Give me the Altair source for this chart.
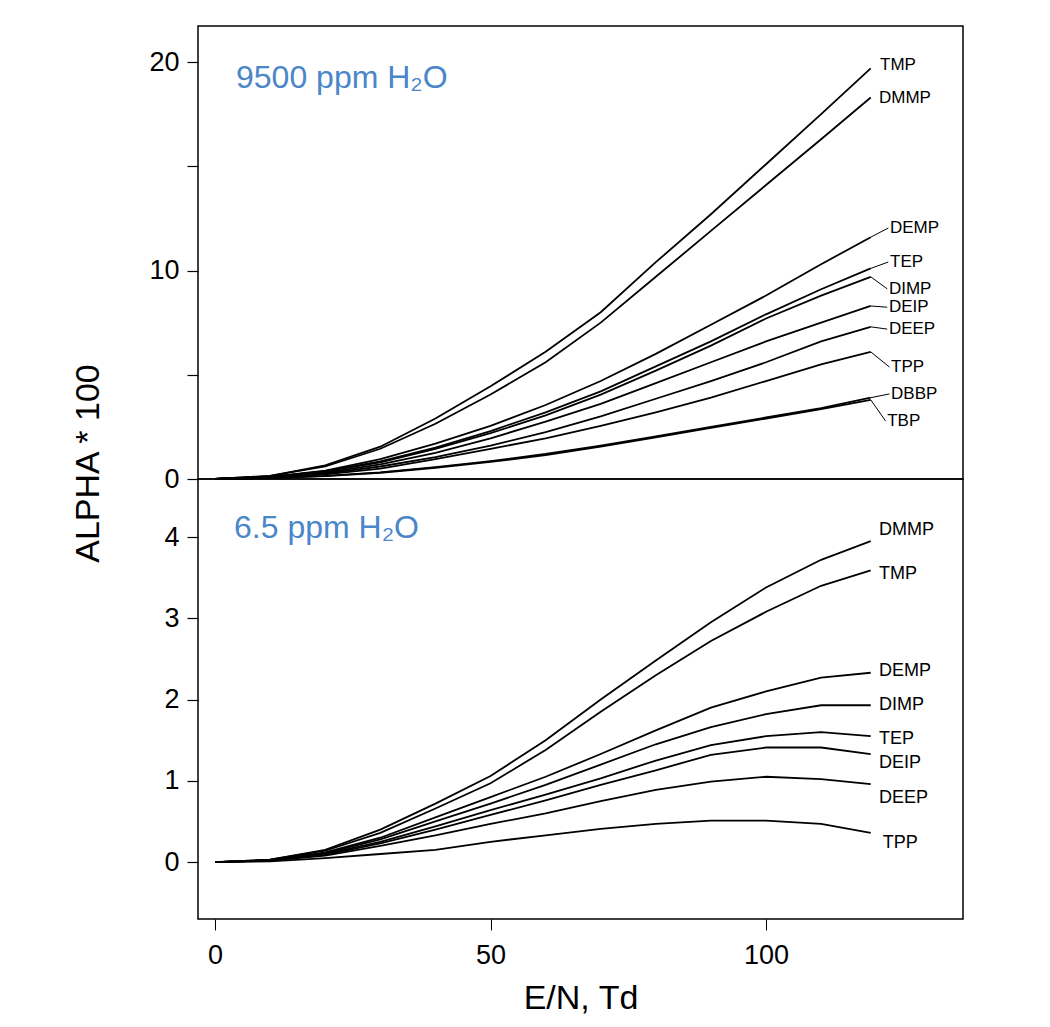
import altair as alt
import pandas as pd

# ---------------- data ----------------
EN = [0, 10, 20, 30, 40, 50, 60, 70, 80, 90, 100, 110, 119]

# 9500 ppm H2O panel (ALPHA*100)
top_TMP  = [0, 0.15, 0.65, 1.55, 2.9, 4.45, 6.1, 8.0, 10.4, 12.7, 15.1, 17.5, 19.7]
top_DMMP = [0, 0.15, 0.60, 1.45, 2.65, 4.05, 5.6, 7.5, 9.7, 11.9, 14.1, 16.3, 18.3]
top_DEMP = [0, 0.10, 0.40, 0.95, 1.70, 2.55, 3.55, 4.7, 6.0, 7.4, 8.8, 10.3, 11.6]
top_TEP  = [0, 0.10, 0.38, 0.85, 1.50, 2.30, 3.20, 4.2, 5.4, 6.6, 7.9, 9.1, 10.1]
top_DIMP = [0, 0.10, 0.36, 0.80, 1.45, 2.20, 3.05, 4.05, 5.2, 6.4, 7.7, 8.8, 9.7]
top_DEIP = [0, 0.08, 0.30, 0.70, 1.25, 1.95, 2.75, 3.6, 4.6, 5.6, 6.6, 7.5, 8.3]
top_DEEP = [0, 0.07, 0.26, 0.60, 1.05, 1.60, 2.25, 3.0, 3.85, 4.7, 5.6, 6.6, 7.3]
top_TPP  = [0, 0.06, 0.22, 0.50, 0.95, 1.45, 1.95, 2.55, 3.2, 3.9, 4.7, 5.5, 6.1]
top_DBBP = [0, 0.04, 0.15, 0.32, 0.57, 0.86, 1.20, 1.6, 2.05, 2.5, 2.95, 3.4, 3.9]
top_TBP  = [0, 0.04, 0.14, 0.30, 0.54, 0.82, 1.15, 1.55, 2.0, 2.45, 2.9, 3.35, 3.8]

# 6.5 ppm H2O panel (ALPHA*100)
bot_DMMP = [0, 0.03, 0.15, 0.40, 0.72, 1.06, 1.50, 2.00, 2.48, 2.95, 3.38, 3.72, 3.95]
bot_TMP  = [0, 0.03, 0.14, 0.36, 0.66, 0.97, 1.38, 1.85, 2.30, 2.72, 3.08, 3.40, 3.59]
bot_DEMP = [0, 0.02, 0.12, 0.30, 0.55, 0.80, 1.05, 1.33, 1.62, 1.90, 2.10, 2.27, 2.33]
bot_DIMP = [0, 0.02, 0.11, 0.28, 0.50, 0.72, 0.95, 1.20, 1.45, 1.66, 1.82, 1.93, 1.93]
bot_TEP  = [0, 0.02, 0.10, 0.25, 0.44, 0.64, 0.83, 1.03, 1.25, 1.44, 1.55, 1.60, 1.55]
bot_DEIP = [0, 0.02, 0.09, 0.23, 0.40, 0.58, 0.76, 0.95, 1.13, 1.32, 1.41, 1.41, 1.33]
bot_DEEP = [0, 0.02, 0.08, 0.20, 0.33, 0.47, 0.60, 0.75, 0.89, 0.99, 1.05, 1.02, 0.96]
bot_TPP  = [0, 0.01, 0.05, 0.10, 0.15, 0.25, 0.33, 0.41, 0.47, 0.51, 0.51, 0.47, 0.36]

top_names = ["TMP", "DMMP", "DEMP", "TEP", "DIMP", "DEIP", "DEEP", "TPP", "DBBP", "TBP"]
top_values = [top_TMP, top_DMMP, top_DEMP, top_TEP, top_DIMP, top_DEIP, top_DEEP,
              top_TPP, top_DBBP, top_TBP]
top_label_x = [120.7, 120.5, 122.5, 122.5, 122.3, 122.3, 122.3, 122.7, 122.7, 122.0]
top_label_y = [19.86, 18.27, 12.04, 10.41, 9.12, 8.24, 7.19, 5.37, 4.08, 2.78]
top_leader = [False, False, True, True, True, True, True, True, True, True]

bot_names = ["DMMP", "TMP", "DEMP", "DIMP", "TEP", "DEIP", "DEEP", "TPP"]
bot_values = [bot_DMMP, bot_TMP, bot_DEMP, bot_DIMP, bot_TEP, bot_DEIP, bot_DEEP, bot_TPP]
bot_label_x = [120.5, 120.5, 120.5, 120.5, 120.5, 120.5, 120.5, 121.2]
bot_label_y = [4.09, 3.54, 2.35, 1.93, 1.51, 1.22, 0.79, 0.23]

x_ticks = [0, 50, 100]
top_y_ticks = [0, 5, 10, 15, 20]
bot_y_ticks = [0, 1, 2, 3, 4]

X_DOMAIN = [-3.09, 135.75]
TOP_DOMAIN = [0, 21.73]
BOT_DOMAIN = [-0.70, 4.714]

FONT = "Liberation Sans"
BLUE = "#4a86c8"

# ---------------- tables ----------------
def long_table(names, values):
    rows = []
    for n, vals in zip(names, values):
        for x, v in zip(EN, vals):
            rows.append({"series": n, "EN": x, "alpha": v})
    return pd.DataFrame(rows)

top_df = long_table(top_names, top_values)
bot_df = long_table(bot_names, bot_values)

top_lab = pd.DataFrame({"series": top_names, "EN": top_label_x, "alpha": top_label_y})
bot_lab = pd.DataFrame({"series": bot_names, "EN": bot_label_x, "alpha": bot_label_y})

lead_rows = []
for n, vals, lx, ly, use in zip(top_names, top_values, top_label_x, top_label_y, top_leader):
    if use:
        lead_rows.append({"series": n, "o": 0, "EN": EN[-1], "alpha": vals[-1]})
        lead_rows.append({"series": n, "o": 1, "EN": lx - 0.3, "alpha": ly})
lead_df = pd.DataFrame(lead_rows)

xscale = alt.Scale(domain=X_DOMAIN, nice=False, zero=False)
top_yscale = alt.Scale(domain=TOP_DOMAIN, nice=False, zero=False)
bot_yscale = alt.Scale(domain=BOT_DOMAIN, nice=False, zero=False)

W = 765

# ---------------- top panel ----------------
top_y_axis = alt.Axis(
    values=top_y_ticks,
    labelExpr="datum.value % 10 === 0 ? datum.label : ''",
    title="ALPHA * 100",
    titleFont=FONT, titleFontSize=34, titleFontWeight="normal", titleColor="black",
    titleAngle=-90, titleAlign="center", titleBaseline="alphabetic",
    titleX=-100, titleY=437,
    labelFont=FONT, labelFontSize=27, labelColor="black", labelPadding=8,
    tickSize=11, tickColor="black", tickWidth=1.2, domain=False, grid=False,
)

tx = alt.X("EN:Q", scale=xscale, axis=None)

top_lines = alt.Chart(top_df).mark_line(color="black", strokeWidth=1.8).encode(
    x=tx,
    y=alt.Y("alpha:Q", scale=top_yscale, axis=top_y_axis),
    detail="series:N",
)
top_leads = alt.Chart(lead_df).mark_line(color="black", strokeWidth=1.0).encode(
    x=tx,
    y=alt.Y("alpha:Q", scale=top_yscale),
    detail="series:N",
    order="o:Q",
)
top_text = alt.Chart(top_lab).mark_text(
    align="left", baseline="middle", font=FONT, fontSize=17, color="black"
).encode(
    x=tx,
    y=alt.Y("alpha:Q", scale=top_yscale),
    text="series:N",
)
top_note = alt.Chart(pd.DataFrame({"t": ["9500 ppm H\u2082O"]})).mark_text(
    align="left", baseline="alphabetic", font=FONT, fontSize=32, color=BLUE
).encode(x=alt.value(38), y=alt.value(62), text="t:N")

top = alt.layer(top_lines, top_leads, top_text, top_note).properties(width=W, height=453)

# ---------------- bottom panel ----------------
bot_y_axis = alt.Axis(
    values=bot_y_ticks, title=None, format="d",
    labelFont=FONT, labelFontSize=27, labelColor="black", labelPadding=8,
    tickSize=11, tickColor="black", tickWidth=1.2, domain=False, grid=False,
)
x_axis = alt.Axis(
    values=x_ticks, title="E/N, Td",
    titleFont=FONT, titleFontSize=34, titleFontWeight="normal", titleColor="black",
    titlePadding=13,
    labelFont=FONT, labelFontSize=27, labelColor="black", labelPadding=12,
    tickSize=11, tickColor="black", tickWidth=1.0, domain=False, grid=False,
)

bot_lines = alt.Chart(bot_df).mark_line(color="black", strokeWidth=1.8).encode(
    x=alt.X("EN:Q", scale=xscale, axis=x_axis),
    y=alt.Y("alpha:Q", scale=bot_yscale, axis=bot_y_axis),
    detail="series:N",
)
bot_text = alt.Chart(bot_lab).mark_text(
    align="left", baseline="middle", font=FONT, fontSize=18, color="black"
).encode(
    x=alt.X("EN:Q", scale=xscale),
    y=alt.Y("alpha:Q", scale=bot_yscale),
    text="series:N",
)
bot_note = alt.Chart(pd.DataFrame({"t": ["6.5 ppm H\u2082O"]})).mark_text(
    align="left", baseline="alphabetic", font=FONT, fontSize=32, color=BLUE
).encode(x=alt.value(36), y=alt.value(59), text="t:N")

bottom = alt.layer(bot_lines, bot_text, bot_note).properties(width=W, height=440)

chart = alt.vconcat(top, bottom, spacing=0, bounds="flush").properties(
    padding={"left": 62, "top": 17, "right": 5, "bottom": 5},
    background="white",
).configure_view(
    stroke="black", strokeWidth=1.5
)

chart.save("out.html", embed_options={"renderer": "svg", "actions": False})
